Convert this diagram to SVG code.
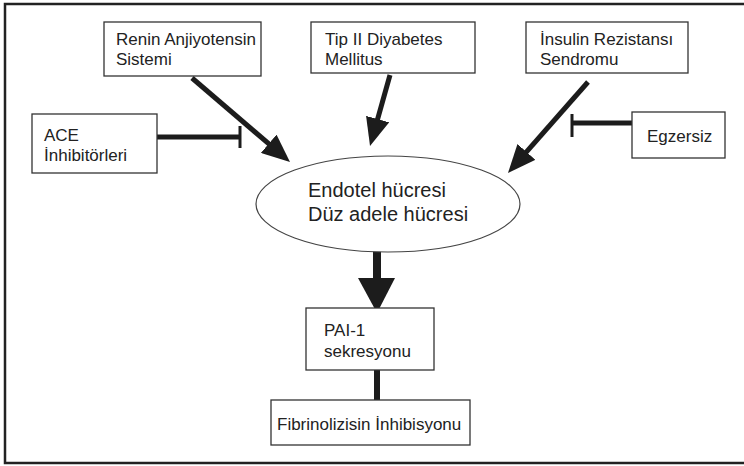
<svg xmlns="http://www.w3.org/2000/svg" width="744" height="466" viewBox="0 0 744 466">
<style>
.box{fill:#fff;stroke:#333;stroke-width:1.3}
.t{font-family:"Liberation Sans",Arial,sans-serif;font-size:17px;fill:#222}
.te{font-family:"Liberation Sans",Arial,sans-serif;font-size:20px;fill:#222}
.c{stroke:#1c1c1c;stroke-width:5;fill:none}
.bar{stroke:#1c1c1c;stroke-width:3;fill:none}
</style>
<defs>
<marker id="ah" markerUnits="userSpaceOnUse" viewBox="0 0 28 24" markerWidth="28" markerHeight="24" refX="13" refY="12" orient="auto">
<path d="M0,0 L28,12 L0,24 z" fill="#1c1c1c"/>
</marker>
</defs>
<rect width="744" height="466" fill="#fff"/>
<path d="M744,4 H5 V463 H744" fill="none" stroke="#222" stroke-width="2.5"/>

<g id="connectors">
<line class="c" x1="192" y1="78" x2="278.6" y2="152.2" marker-end="url(#ah)"/>
<line class="c" x1="390" y1="75" x2="374.1" y2="131.6" marker-end="url(#ah)"/>
<line class="c" x1="588" y1="82" x2="517.9" y2="161.7" marker-end="url(#ah)"/>
<line class="c" x1="157" y1="137" x2="240" y2="137"/>
<line class="bar" x1="240" y1="126" x2="240" y2="148"/>
<line class="c" x1="632" y1="123" x2="572" y2="123"/>
<line class="bar" x1="572" y1="114" x2="572" y2="137"/>
<rect x="373" y="238" width="8" height="42" fill="#1c1c1c"/>
<polygon points="358,278 395,278 377,313" fill="#1c1c1c"/>
<rect x="374" y="370" width="6" height="30" fill="#1c1c1c"/>
</g>

<g id="renin">
<rect class="box" x="104" y="22" width="157" height="54"/>
<text class="t" x="116" y="45">Renin Anjiyotensin</text>
<text class="t" x="116" y="65">Sistemi</text>
</g>
<g id="tip2">
<rect class="box" x="311" y="22" width="164" height="51"/>
<text class="t" x="325" y="45">Tip II Diyabetes</text>
<text class="t" x="325" y="65">Mellitus</text>
</g>
<g id="insulin">
<rect class="box" x="526" y="22" width="162" height="51"/>
<text class="t" x="540" y="45">İnsulin Rezistansı</text>
<text class="t" x="540" y="65">Sendromu</text>
</g>
<g id="ace">
<rect class="box" x="32" y="114" width="125" height="59"/>
<text class="t" x="44" y="141">ACE</text>
<text class="t" x="44" y="161">İnhibitörleri</text>
</g>
<g id="egzersiz">
<rect class="box" x="632" y="112" width="93" height="46"/>
<text class="t" x="647" y="142">Egzersiz</text>
</g>
<g id="endotel">
<ellipse cx="388" cy="204" rx="132" ry="48" fill="#fff" stroke="#444" stroke-width="1.2"/>
<text class="te" x="308" y="197">Endotel hücresi</text>
<text class="te" x="308" y="221">Düz adele hücresi</text>
</g>
<g id="pai1">
<rect class="box" x="306" y="308" width="128" height="62"/>
<text class="t" x="324" y="336">PAI-1</text>
<text class="t" x="324" y="357">sekresyonu</text>
</g>
<g id="fibrinoliz">
<rect class="box" x="271" y="400" width="199" height="45"/>
<text class="t" x="277" y="430">Fibrinolizisin  İnhibisyonu</text>
</g>
</svg>
